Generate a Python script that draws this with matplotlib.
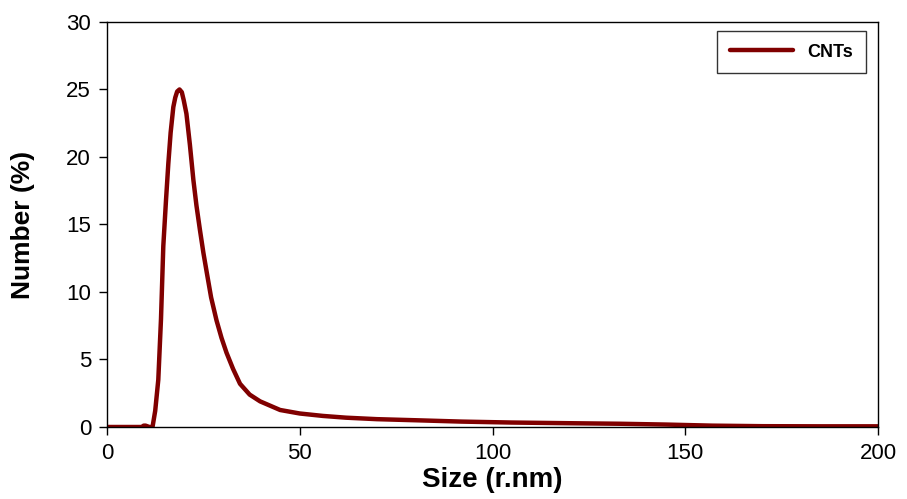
import matplotlib
matplotlib.use("Agg")
import matplotlib.pyplot as plt

plt.rcParams['font.family'] = ['Liberation Sans', 'DejaVu Sans']

# size distribution
size_nm = [0, 5, 9, 9.5, 10, 11, 11.8, 12.5, 13.3, 14.0, 14.6, 15.3, 15.9, 16.5,
           17.2, 17.7, 18.2, 18.8, 19.4, 19.9, 20.6, 21.5, 22.4, 23.2, 24.1, 25.0,
           25.9, 27.0, 28.4, 29.7, 31.0, 32.7, 34.5, 37.0, 39.7, 44.9, 50, 56, 62,
           70, 80, 92, 105, 120, 133, 145, 157, 170, 185, 200]
number_pct = [0, 0, 0, 0.1, 0.1, 0, 0, 1.2, 3.5, 8.0, 13.4, 16.8, 19.5, 21.8,
              23.7, 24.4, 24.85, 25.0, 24.8, 24.2, 23.2, 20.9, 18.3, 16.4, 14.6, 12.9,
              11.4, 9.6, 7.9, 6.6, 5.5, 4.3, 3.2, 2.4, 1.9, 1.26, 1.0, 0.82, 0.69,
              0.58, 0.5, 0.4, 0.33, 0.28, 0.24, 0.18, 0.1, 0.06, 0.05, 0.05]

x_ticks = [0, 50, 100, 150, 200]
y_ticks = [0, 5, 10, 15, 20, 25, 30]

fig = plt.figure(figsize=(9.07, 4.99), dpi=100)
ax = fig.add_axes([0.118, 0.1443, 0.850, 0.8117])

ax.plot(size_nm, number_pct, color='#800000', linewidth=3.2, label='CNTs',
        solid_capstyle='round', solid_joinstyle='round')

ax.set_xlim(0, 200)
ax.set_ylim(0, 30)
ax.set_xticks(x_ticks)
ax.set_yticks(y_ticks)
ax.tick_params(direction='out', length=5.5, width=1, labelsize=16, colors='black', pad=6)
for s in ax.spines.values():
    s.set_linewidth(1)

ax.set_xlabel("Size (r.nm)", fontsize=20, fontweight='bold')
ax.set_ylabel("Number (%)", fontsize=19, fontweight='bold')
ax.xaxis.set_label_coords(0.5, -0.10)
ax.yaxis.set_label_coords(-0.093, 0.5)

leg = ax.legend(loc='upper right', fancybox=False, edgecolor='black',
                prop={'weight': 'bold', 'size': 13}, handlelength=3.5,
                handletextpad=0.8, borderpad=0.7, borderaxespad=0,
                bbox_to_anchor=(0.984, 0.978))
leg.get_frame().set_linewidth(1)

fig.savefig("out.png", dpi=100)
